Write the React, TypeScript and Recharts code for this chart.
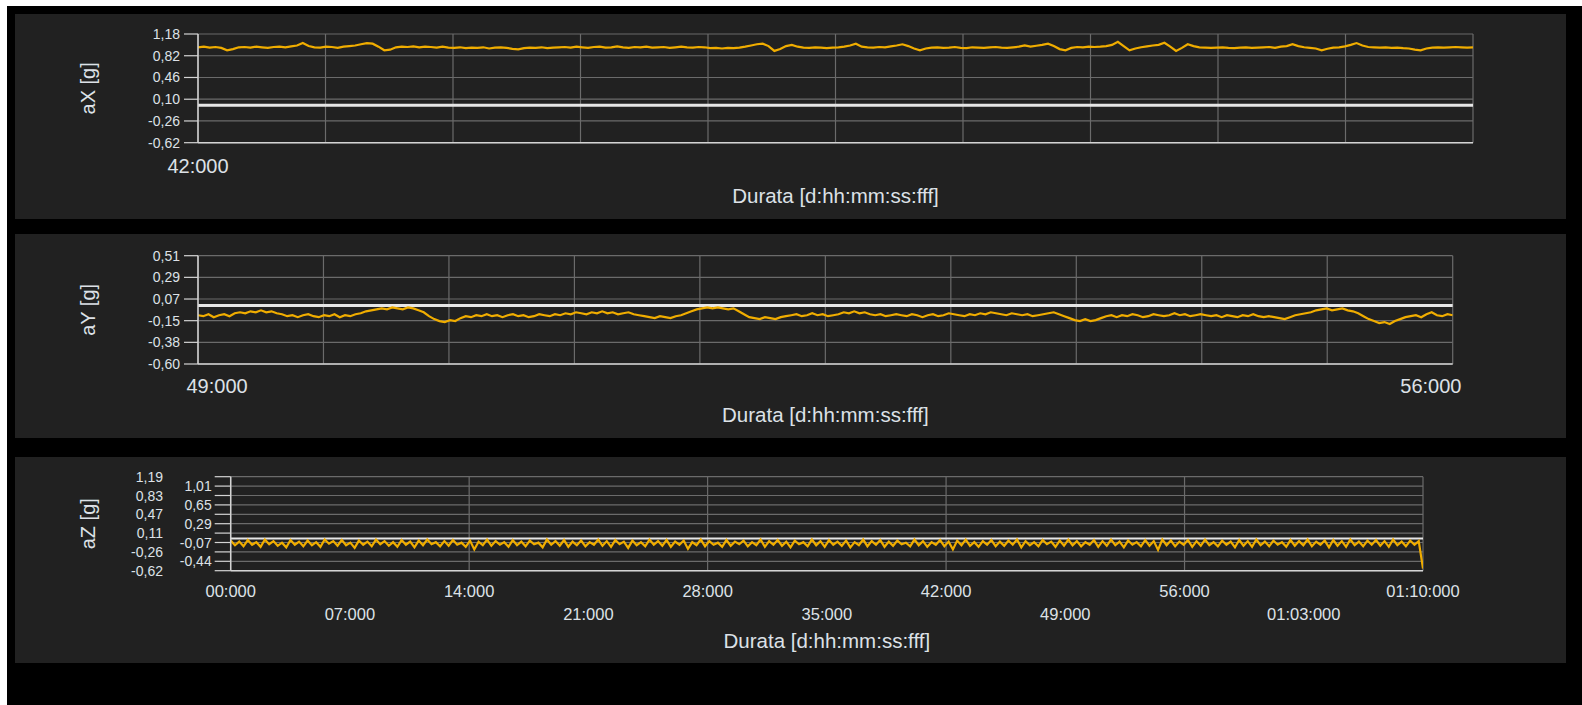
import React from 'react';
import { LineChart, Line, XAxis, YAxis, CartesianGrid, ReferenceLine, Label } from 'recharts';

const FONT = "'Liberation Sans', Arial, Helvetica, sans-serif";
const TEXT = '#dde1e7';
const GRID = '#6b6b6b';
const AXIS = '#d4d4d4';
const ZERO = '#e6e6e6';
const TRACE = '#f0ad00';
const PANEL = '#212121';

// aX panel
const aXStart = 42;
const aXEnd = 49.3;
const aXValues = [
  0.96, 0.97, 0.955, 0.965, 0.95, 0.91, 0.93, 0.96, 0.965, 0.955, 0.97, 0.96, 0.95, 0.965, 0.97, 0.96, 0.975, 0.99, 1.03, 0.98,
  0.96, 0.955, 0.97, 0.965, 0.95, 0.97, 0.98, 0.99, 1.01, 1.03, 1.02, 0.97, 0.91, 0.92, 0.96, 0.97, 0.965, 0.975, 0.96, 0.97,
  0.965, 0.955, 0.97, 0.955, 0.95, 0.96, 0.945, 0.955, 0.95, 0.96, 0.94, 0.955, 0.96, 0.95, 0.935, 0.925, 0.945, 0.955, 0.95, 0.96,
  0.945, 0.955, 0.96, 0.965, 0.955, 0.97, 0.96, 0.95, 0.965, 0.97, 0.955, 0.96, 0.975, 0.96, 0.95, 0.965, 0.96, 0.97, 0.955, 0.96,
  0.965, 0.95, 0.96, 0.97, 0.96, 0.955, 0.965, 0.96, 0.945, 0.95, 0.94, 0.95, 0.945, 0.955, 0.97, 0.99, 1.01, 1.02, 0.98, 0.9,
  0.93, 0.98, 1.0, 0.97, 0.955, 0.95, 0.96, 0.955, 0.945, 0.955, 0.96, 0.97, 0.99, 1.02, 0.97, 0.96, 0.955, 0.965, 0.96, 0.975,
  0.99, 1.01, 0.98, 0.94, 0.91, 0.94, 0.955, 0.96, 0.95, 0.955, 0.965, 0.95, 0.945, 0.96, 0.955, 0.95, 0.96, 0.965, 0.955, 0.95,
  0.96, 0.97, 0.99, 0.97, 0.985, 1.0, 1.02, 0.98, 0.93, 0.91, 0.95, 0.965, 0.96, 0.97, 0.965, 0.97, 0.98, 1.0, 1.05, 0.98,
  0.91, 0.94, 0.96, 0.975, 0.99, 1.0, 1.035, 0.97, 0.9, 0.95, 1.01, 0.98, 0.96, 0.955, 0.95, 0.955, 0.96, 0.95, 0.945, 0.955,
  0.96, 0.95, 0.955, 0.96, 0.965, 0.95, 0.97, 0.98, 1.01, 0.98, 0.96, 0.95, 0.94, 0.91, 0.935, 0.955, 0.96, 0.975, 1.0, 1.03,
  0.99, 0.965, 0.96, 0.955, 0.96, 0.95, 0.955, 0.945, 0.94, 0.92, 0.91, 0.94, 0.955, 0.96, 0.955, 0.96, 0.965, 0.96, 0.955, 0.96,
];
const aXTicks = [-0.62, -0.26, 0.1, 0.46, 0.82, 1.18];
const aXTickLabels = ['-0,62', '-0,26', '0,10', '0,46', '0,82', '1,18'];
const aXTimeTicks = [42];

// aY panel
const aYStart = 48.89;
const aYEnd = 56.126;
const aYValues = [
  -0.1, -0.11, -0.09, -0.12, -0.1, -0.09, -0.11,
  -0.08, -0.07, -0.08, -0.06, -0.07, -0.05, -0.07, -0.06, -0.08,
  -0.09, -0.11, -0.1, -0.12, -0.1, -0.09, -0.11, -0.12, -0.1, -0.11, -0.09, -0.12, -0.1, -0.11, -0.09, -0.08,
  -0.06, -0.05, -0.04, -0.03, -0.04, -0.02, -0.03, -0.04, -0.02, -0.03, -0.05, -0.07,
  -0.11, -0.14, -0.16, -0.17, -0.15, -0.16,
  -0.13, -0.11, -0.12, -0.1, -0.11, -0.09, -0.11, -0.1, -0.12, -0.1, -0.09, -0.11, -0.1, -0.12, -0.11, -0.09, -0.1, -0.11, -0.09, -0.1,
  -0.08, -0.09, -0.07, -0.08, -0.09, -0.07, -0.08, -0.06, -0.08, -0.07, -0.09, -0.08, -0.07, -0.09, -0.1,
  -0.11, -0.12, -0.13, -0.11, -0.12, -0.13, -0.11, -0.1, -0.08,
  -0.06, -0.04, -0.03, -0.02, -0.03, -0.02, -0.03, -0.04, -0.03, -0.06,
  -0.09, -0.12, -0.13, -0.14, -0.12, -0.13, -0.14, -0.12, -0.11,
  -0.1, -0.09, -0.11, -0.1, -0.08, -0.1, -0.09, -0.11, -0.1, -0.09,
  -0.07, -0.08, -0.06, -0.08, -0.07, -0.09, -0.1, -0.09, -0.11, -0.1,
  -0.09, -0.1, -0.11, -0.09, -0.1, -0.12, -0.1, -0.09, -0.11, -0.1,
  -0.08, -0.09, -0.1, -0.11, -0.09, -0.1, -0.08, -0.09, -0.07, -0.08,
  -0.09, -0.1, -0.08, -0.09, -0.1, -0.09, -0.11, -0.1, -0.09, -0.08,
  -0.07, -0.09, -0.11,
  -0.13, -0.15, -0.16, -0.14, -0.16, -0.15, -0.13,
  -0.11, -0.1, -0.12, -0.1, -0.11, -0.09, -0.1, -0.12, -0.11, -0.09, -0.1, -0.11, -0.1, -0.08, -0.1, -0.09, -0.11, -0.1,
  -0.09, -0.1, -0.11, -0.1, -0.12, -0.1, -0.11, -0.12, -0.1, -0.11, -0.09, -0.11, -0.12, -0.11, -0.12, -0.13, -0.14, -0.12, -0.1, -0.09, -0.08, -0.07,
  -0.05, -0.04, -0.03, -0.05, -0.04, -0.03, -0.05, -0.06, -0.08,
  -0.11, -0.14, -0.16, -0.18, -0.17, -0.19, -0.16, -0.14, -0.12,
  -0.11, -0.1, -0.12, -0.09, -0.07, -0.1, -0.11, -0.09, -0.1,
];
const aYTicks = [-0.6, -0.378, -0.156, 0.066, 0.288, 0.51];
const aYTickLabels = ['-0,60', '-0,38', '-0,15', '0,07', '0,29', '0,51'];
const aYTimeTicks = [49, 56];

// aZ panel
const aZStart = 0;
const aZEnd = 70;
const aZValues = [
  -0.04, -0.13, -0.06, -0.15, -0.03, -0.12, -0.07, -0.16, -0.02, -0.11, -0.05, -0.14, -0.08, -0.17, -0.03, -0.12, -0.06, -0.15, -0.04, -0.13,
  -0.07, -0.16, -0.02, -0.1, -0.05, -0.14, -0.03, -0.13, -0.08, -0.18, -0.04, -0.12, -0.06, -0.15, -0.02, -0.11, -0.05, -0.14, -0.07, -0.16,
  -0.03, -0.12, -0.06, -0.17, -0.04, -0.13, -0.02, -0.11, -0.07, -0.15, -0.05, -0.14, -0.03, -0.12, -0.08, -0.16, -0.04, -0.21, -0.06, -0.13,
  -0.02, -0.14, -0.05, -0.12, -0.07, -0.16, -0.03, -0.13, -0.06, -0.15, -0.04, -0.11, -0.08, -0.17, -0.02, -0.12, -0.05, -0.14, -0.03, -0.16,
  -0.06, -0.13, -0.04, -0.15, -0.07, -0.12, -0.02, -0.14, -0.05, -0.16, -0.03, -0.11, -0.06, -0.18, -0.04, -0.13, -0.07, -0.15, -0.02, -0.12,
  -0.05, -0.14, -0.03, -0.16, -0.06, -0.12, -0.04, -0.2, -0.07, -0.13, -0.02, -0.15, -0.05, -0.12, -0.08, -0.16, -0.03, -0.14, -0.06, -0.11,
  -0.04, -0.15, -0.07, -0.13, -0.02, -0.16, -0.05, -0.12, -0.03, -0.14, -0.06, -0.17, -0.04, -0.11, -0.07, -0.15, -0.02, -0.13, -0.05, -0.16,
  -0.03, -0.12, -0.06, -0.14, -0.04, -0.17, -0.07, -0.13, -0.02, -0.15, -0.05, -0.12, -0.03, -0.16, -0.06, -0.14, -0.04, -0.11, -0.08, -0.15,
  -0.02, -0.13, -0.05, -0.16, -0.07, -0.12, -0.03, -0.15, -0.06, -0.21, -0.04, -0.13, -0.02, -0.14, -0.07, -0.16, -0.05, -0.12, -0.03, -0.15,
  -0.06, -0.14, -0.04, -0.12, -0.02, -0.17, -0.05, -0.13, -0.07, -0.15, -0.03, -0.11, -0.06, -0.16, -0.04, -0.14, -0.02, -0.13, -0.05, -0.15,
  -0.07, -0.12, -0.03, -0.16, -0.05, -0.14, -0.02, -0.13, -0.06, -0.17, -0.04, -0.12, -0.07, -0.15, -0.03, -0.14, -0.05, -0.22, -0.02, -0.13,
  -0.04, -0.15, -0.06, -0.12, -0.03, -0.16, -0.05, -0.14, -0.02, -0.13, -0.07, -0.15, -0.04, -0.12, -0.06, -0.17, -0.03, -0.14, -0.05, -0.16,
  -0.02, -0.13, -0.06, -0.15, -0.04, -0.12, -0.07, -0.16, -0.03, -0.14, -0.05, -0.13, -0.02, -0.15, -0.06, -0.12, -0.04, -0.17, -0.03, -0.14,
  -0.05, -0.16, -0.02, -0.13, -0.06, -0.15, -0.04, -0.12, -0.03, -0.14, -0.05, -0.16, -0.02, -0.13, -0.06, -0.15, -0.04, -0.12, -0.05, -0.58,
];
const aZTicks = [-0.62, -0.439, -0.258, -0.077, 0.104, 0.285, 0.466, 0.647, 0.828, 1.009, 1.19];
const aZTickLabels = ['-0,62', '-0,44', '-0,26', '-0,07', '0,11', '0,29', '0,47', '0,65', '0,83', '1,01', '1,19'];
const aZTimeTicks = [0, 7, 14, 21, 28, 35, 42, 49, 56, 63, 70];
const aZGridTicks = [0, 14, 28, 42, 56, 70];

const TITLE = 'Durata [d:hh:mm:ss:fff]';
const CHART_W = 1551;

const toRows = (values: number[], start: number, end: number) =>
  values.map((v, i) => ({ t: start + (i * (end - start)) / (values.length - 1), v }));

const tenths = (a: number, b: number) => Array.from({ length: 11 }, (_, i) => a + (i * (b - a)) / 10);

const pad = (n: number) => String(n).padStart(2, '0');
const fmtTime = (s: number) => {
  const r = Math.round(s);
  const m = Math.floor(r / 60);
  return m > 0 ? `${pad(m)}:${pad(r % 60)}:000` : `${pad(r)}:000`;
};

type PanelProps = {
  top: number;
  height: number;
  plotTop: number;
  plotBottom: number;
  plotLeft: number;
  plotRight: number;
  axisHeight: number;
  rows: { t: number; v: number }[];
  domainX: [number, number];
  yTicks: number[];
  yLabels: string[];
  yTitle: string;
  timeTicks: number[];
  gridTicks: number[];
  timeFont: number;
  timeOffset: number;
  titleOffset: number;
  staggerX?: number;
  staggerY?: number;
  yTickSize: number;
  yTickMargin: number;
  zeroWidth: number;
  traceWidth: number;
};

function Panel(p: PanelProps) {
  const yDomain: [number, number] = [p.yTicks[0], p.yTicks[p.yTicks.length - 1]];
  const margin = {
    top: p.plotTop,
    left: 0,
    right: CHART_W - p.plotRight,
    bottom: p.height - p.plotBottom - p.axisHeight,
  };

  const timeTick = ({ x, y, payload }: any) => {
    const k = Math.round(payload.value / 7);
    const dy = p.staggerX && k % 2 === 1 ? p.staggerX : 0;
    return (
      <text x={x} y={y + dy} textAnchor="middle" dominantBaseline="central" fill={TEXT} fontSize={p.timeFont} fontFamily={FONT}>
        {fmtTime(payload.value)}
      </text>
    );
  };

  const yTick = ({ x, y, payload }: any) => {
    const idx = p.yTicks.findIndex((t) => Math.abs(t - payload.value) < 1e-6);
    const dx = p.staggerY && idx % 2 === 0 ? -p.staggerY : 0;
    return (
      <text x={x + dx} y={y} textAnchor="end" dominantBaseline="central" fill={TEXT} fontSize={14} fontFamily={FONT}>
        {p.yLabels[idx]}
      </text>
    );
  };

  const xTitle = ({ viewBox }: any) => (
    <text
      x={viewBox.x + viewBox.width / 2}
      y={viewBox.y + p.titleOffset}
      textAnchor="middle"
      dominantBaseline="central"
      fill={TEXT}
      fontSize={20.5}
      fontFamily={FONT}
    >
      {TITLE}
    </text>
  );

  const yTitleRender = ({ viewBox }: any) => {
    const cy = viewBox.y + viewBox.height / 2;
    return (
      <text
        x={73}
        y={cy}
        transform={`rotate(-90 73 ${cy})`}
        textAnchor="middle"
        dominantBaseline="central"
        fill={TEXT}
        fontSize={20}
        fontFamily={FONT}
      >
        {p.yTitle}
      </text>
    );
  };

  return (
    <div style={{ position: 'absolute', left: 15, top: p.top, width: CHART_W, height: p.height, background: PANEL }}>
      <LineChart width={CHART_W} height={p.height} data={p.rows} margin={margin}>
        <XAxis xAxisId="g" type="number" dataKey="t" domain={p.domainX} ticks={p.gridTicks} hide allowDataOverflow />
        <XAxis
          type="number"
          dataKey="t"
          domain={p.domainX}
          ticks={p.timeTicks}
          interval={0}
          height={p.axisHeight}
          tickSize={0}
          tickMargin={p.timeOffset}
          tickLine={false}
          axisLine={{ stroke: AXIS, strokeWidth: 1.5 }}
          tick={timeTick}
          allowDataOverflow
        >
          <Label content={xTitle} />
        </XAxis>
        <YAxis
          type="number"
          domain={yDomain}
          ticks={p.yTicks}
          interval={0}
          width={p.plotLeft}
          tickSize={p.yTickSize}
          tickMargin={p.yTickMargin}
          tickLine={{ stroke: AXIS, strokeWidth: 1.2 }}
          axisLine={{ stroke: AXIS, strokeWidth: 1.5 }}
          tick={yTick}
          allowDataOverflow
        >
          <Label content={yTitleRender} />
        </YAxis>
        <CartesianGrid xAxisId="g" stroke={GRID} strokeWidth={1.2} />
        <ReferenceLine y={0} stroke={ZERO} strokeWidth={p.zeroWidth} />
        <Line
          type="linear"
          dataKey="v"
          stroke={TRACE}
          strokeWidth={p.traceWidth}
          dot={false}
          activeDot={false}
          isAnimationActive={false}
        />
      </LineChart>
    </div>
  );
}

export default function App() {
  return (
    <div style={{ position: 'absolute', left: 0, top: 0, width: 1582, height: 705, background: '#ffffff', overflow: 'hidden' }}>
      <div style={{ position: 'absolute', left: 7, top: 6, right: 0, bottom: 0, background: '#000000' }} />
      <Panel
        top={14}
        height={205}
        plotTop={20}
        plotBottom={128.7}
        plotLeft={183}
        plotRight={1458}
        axisHeight={76}
        rows={toRows(aXValues, aXStart, aXEnd)}
        domainX={[aXStart, aXEnd]}
        yTicks={aXTicks}
        yLabels={aXTickLabels}
        yTitle="aX [g]"
        timeTicks={aXTimeTicks}
        gridTicks={tenths(aXStart, aXEnd)}
        timeFont={20}
        timeOffset={23}
        titleOffset={52.3}
        yTickSize={14}
        yTickMargin={4}
        zeroWidth={3}
        traceWidth={2.2}
      />
      <Panel
        top={234}
        height={204}
        plotTop={21.7}
        plotBottom={130}
        plotLeft={183}
        plotRight={1437.7}
        axisHeight={74}
        rows={toRows(aYValues, aYStart, aYEnd)}
        domainX={[aYStart, aYEnd]}
        yTicks={aYTicks}
        yLabels={aYTickLabels}
        yTitle="aY [g]"
        timeTicks={aYTimeTicks}
        gridTicks={tenths(aYStart, aYEnd)}
        timeFont={20}
        timeOffset={21.7}
        titleOffset={50.5}
        yTickSize={14}
        yTickMargin={4}
        zeroWidth={3}
        traceWidth={2.2}
      />
      <Panel
        top={457}
        height={206}
        plotTop={19.7}
        plotBottom={113.7}
        plotLeft={215.7}
        plotRight={1408}
        axisHeight={92}
        rows={toRows(aZValues, aZStart, aZEnd)}
        domainX={[aZStart, aZEnd]}
        yTicks={aZTicks}
        yLabels={aZTickLabels}
        yTitle="aZ [g]"
        timeTicks={aZTimeTicks}
        gridTicks={aZGridTicks}
        timeFont={16.5}
        timeOffset={20}
        titleOffset={69.3}
        staggerX={23.6}
        staggerY={48.7}
        yTickSize={16}
        yTickMargin={3}
        zeroWidth={2}
        traceWidth={2.2}
      />
    </div>
  );
}
